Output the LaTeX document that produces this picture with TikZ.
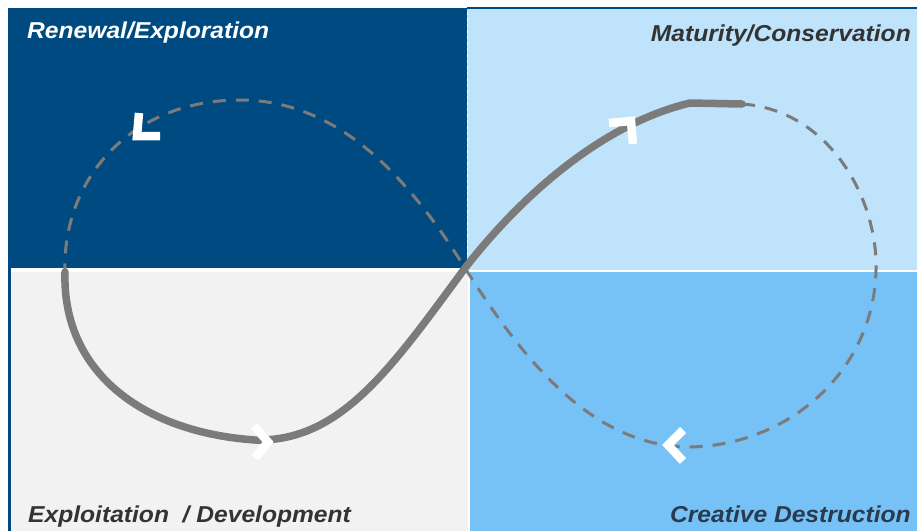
\documentclass[tikz,border=0pt]{standalone}
\usepackage{fontspec}
\setmainfont{Liberation Sans}
\definecolor{darkq}{HTML}{004A82}
\definecolor{lightq}{HTML}{BEE3FB}
\definecolor{midq}{HTML}{76C2F7}
\definecolor{greyq}{HTML}{F2F2F2}
\definecolor{curvecol}{HTML}{7B7B7B}
\definecolor{txtdark}{HTML}{333333}
\definecolor{txtnavy}{HTML}{2A3B4E}
\tikzset{
  solidcurve/.style={draw=curvecol, line width=7.5pt, line cap=round},
  dashcurve/.style={draw=curvecol, line width=3pt, dash pattern=on 13pt off 10pt},
  chevron/.style={draw=white, line width=8.5pt, miter limit=10},
  quadlabel/.style={font=\fontsize{23}{26}\selectfont\bfseries\itshape, inner sep=0pt},
}
\begin{document}
\begin{tikzpicture}[x=1pt,y=-1pt]
\useasboundingbox (0,0) rectangle (917,531);
\fill[white] (0,0) rectangle (917,531);
% quadrants
\fill[darkq] (8,8) rectangle (467,268);
\fill[lightq] (467,9) rectangle (917,270);
\fill[greyq] (11,272) rectangle (468,531);
\fill[midq] (470,272) rectangle (917,531);
% borders
\fill[darkq] (8,8) rectangle (11,531);
\fill[darkq] (467,7) rectangle (917,9);
\draw[white, line width=1pt, dash pattern=on 3pt off 3pt] (467,12) -- (467,266);
% solid curve
\coordinate (s0) at (65,272);
\coordinate (s1) at (255,440);
\coordinate (cx) at (465,268);
\coordinate (s3) at (690,103);
\coordinate (s4) at (742,104);
\coordinate (d1) at (876,270);
\coordinate (d2) at (690,447);
\coordinate (d3) at (240,100);
\draw[dashcurve] (s4) .. controls (830,110) and (878,200) .. (d1)
  .. controls (874,370) and (790,445) .. (d2)
  .. controls (590,447) and (520,355) .. (cx)
  .. controls (410,180) and (340,100) .. (d3)
  .. controls (130,100) and (62,180) .. (s0);
\draw[solidcurve] (s0) .. controls (62,370) and (140,432) .. (s1)
  .. controls (340,442) and (390,370) .. (cx)
  .. controls (530,185) and (610,122) .. (s3) -- (s4);
% chevrons
\draw[chevron] (139,113) -- (137,136) -- (160,136);
\draw[chevron] (609,123) -- (631,121) -- (633,144);
\draw[chevron] (254,426) -- (268,442) -- (255,458);
\draw[chevron] (683,430) -- (668,445) -- (683,461);
% labels
\node[quadlabel, text=white, anchor=base west] (tl) at (27,38) {\scalebox{1.07}[1]{Renewal/Exploration}};
\node[quadlabel, text=txtdark, anchor=base east] (tr) at (911,41) {\scalebox{1.07}[1]{Maturity/Conservation}};
\node[quadlabel, text=txtdark, anchor=base west] (bl) at (28,522) {\scalebox{1.07}[1]{Exploitation\ \ / Development}};
\node[quadlabel, text=txtnavy, anchor=base east] (br) at (911,522) {\scalebox{1.07}[1]{Creative Destruction}};
\end{tikzpicture}
\end{document}
